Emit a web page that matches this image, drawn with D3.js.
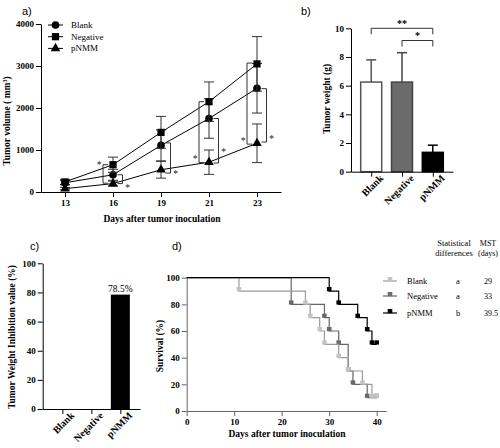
<!DOCTYPE html>
<html><head><meta charset="utf-8">
<script src="https://cdn.jsdelivr.net/npm/d3@7"></script>
<style>body{margin:0;background:#fff}svg{display:block}</style>
</head><body>
<svg id="chart" width="500" height="448"></svg>
<script>
// ---------- Panel a data ----------
const aDays = ["13", "16", "19", "21", "23"];
const aBlank = [220, 410, 1110, 1750, 2470];
const aBlankErr = [50, 130, 370, 470, 590];
const aNegative = [240, 650, 1420, 2150, 3050];
const aNegativeErr = [60, 180, 380, 470, 650];
const aPNMM = [80, 200, 530, 710, 1160];
const aPNMMErr = [30, 60, 200, 290, 460];
const aYTicks = [0, 1000, 2000, 3000, 4000];
const aBrackets = [
  {day: "16", side: "left", top: 650, bottom: 210, star: 690},
  {day: "16", side: "right", top: 410, bottom: 200, star: 140},
  {day: "19", side: "right", top: 1170, bottom: 450, star: 470},
  {day: "21", side: "left", top: 2150, bottom: 700, star: 840},
  {day: "21", side: "right", top: 1750, bottom: 690, star: 990},
  {day: "23", side: "left", top: 3070, bottom: 1140, star: 1270},
  {day: "23", side: "right", top: 2460, bottom: 1190, star: 1320}
];
// ---------- Panel b data ----------
const bGroups = ["Blank", "Negative", "pNMM"];
const bWeights = [6.25, 6.25, 1.35];
const bWeightErr = [1.55, 2.05, 0.5];
const bYTicks = [0, 2, 4, 6, 8, 10];
const bSig = [
  {from: "Blank", to: "pNMM", level: 10, label: "**"},
  {from: "Negative", to: "pNMM", level: 9.15, label: "*"}
];
// ---------- Panel c data ----------
const cGroups = ["Blank", "Negative", "pNMM"];
const cInhibition = [0, 0, 78.5];
const cYTicks = [0, 20, 40, 60, 80, 100];
// ---------- Panel d data ----------
const dBlankDays = [0, 11, 25, 26, 28, 29, 32, 34, 37, 39, 40];
const dBlankSurv = [100, 90, 80, 70, 60, 50, 40, 30, 20, 10, 10];
const dNegativeDays = [0, 22, 29, 30, 32, 34, 35, 38, 40];
const dNegativeSurv = [100, 80, 70, 60, 50, 30, 20, 10, 10];
const dPNMMDays = [0, 30, 32, 36, 38, 39, 40];
const dPNMMSurv = [100, 90, 80, 70, 60, 50, 50];
const dXTicks = [0, 10, 20, 30, 40];
const dYTicks = [0, 20, 40, 60, 80, 100];
const dLegendNames = ["Blank", "Negative", "pNMM"];
const dStat = ["a", "a", "b"];
const dMST = ["29", "33", "39.5"];

const SERIF = "'Liberation Serif','Times New Roman',serif";
const SANS = "'Liberation Sans',Arial,sans-serif";
const svg = d3.select("#chart");
svg.append("rect").attr("width", 500).attr("height", 448).attr("fill", "#fff");
const fmt = d3.format("d");

function styleAxis(g, color) {
  g.attr("font-family", SERIF);
  g.selectAll("path,line").attr("stroke", color || "#000").attr("stroke-width", 1);
  g.selectAll("text").attr("font-family", SERIF).attr("font-weight", "bold").attr("font-size", 9).attr("fill", "#000");
}
function panelLabel(x, y, t) {
  svg.append("text").attr("x", x).attr("y", y).attr("font-family", SANS).attr("font-size", 11).text(t);
}
function rotateCats(xa) {
  xa.selectAll("text").attr("text-anchor", "end").attr("font-size", 10)
    .attr("transform", "translate(4,-1) rotate(-45)").attr("dy", "0.35em").attr("y", 8).attr("x", 0);
}

// ================= Panel a =================
(function () {
  const x = d3.scalePoint().domain(aDays).range([41, 281]).padding(0.5);
  const y = d3.scaleLinear().domain([0, 4000]).range([192, 24]);
  const g = svg.append("g");
  panelLabel(22, 15, "a)");
  const ya = g.append("g").attr("transform", "translate(41,0)")
    .call(d3.axisLeft(y).tickValues(aYTicks).tickFormat(fmt).tickSize(5).tickSizeOuter(0).tickPadding(2));
  styleAxis(ya);
  const xa = g.append("g").attr("transform", "translate(0,192)")
    .call(d3.axisBottom(x).tickSize(5).tickSizeOuter(0).tickPadding(3));
  styleAxis(xa);
  g.append("text").attr("transform", "translate(10,121) rotate(-90)").attr("text-anchor", "middle")
    .attr("font-family", SERIF).attr("font-weight", "bold").attr("font-size", 9.5)
    .call(t => { t.append("tspan").text("Tumor volume ( mm");
      t.append("tspan").attr("baseline-shift", "super").attr("font-size", 6).text("3");
      t.append("tspan").text(")"); });
  g.append("text").attr("x", 162).attr("y", 222).attr("text-anchor", "middle")
    .attr("font-family", SERIF).attr("font-weight", "bold").attr("font-size", 9.5)
    .text("Days after tumor inoculation");

  const series = [
    {name: "Blank", vals: aBlank, err: aBlankErr, shape: d3.symbolCircle, size: 46},
    {name: "Negative", vals: aNegative, err: aNegativeErr, shape: d3.symbolSquare, size: 52},
    {name: "pNMM", vals: aPNMM, err: aPNMMErr, shape: d3.symbolTriangle, size: 40}
  ];
  const line = d3.line().x(d => x(d.day)).y(d => y(d.v));
  series.forEach(s => {
    const pts = aDays.map((d, i) => ({day: d, v: s.vals[i], e: s.err[i]}));
    const eb = g.append("g").attr("stroke", "#333").attr("stroke-width", 1);
    pts.forEach(p => {
      const cx = x(p.day);
      eb.append("line").attr("x1", cx).attr("x2", cx).attr("y1", y(p.v + p.e)).attr("y2", y(p.v - p.e));
      [p.v + p.e, p.v - p.e].forEach(v => eb.append("line").attr("x1", cx - 5).attr("x2", cx + 5).attr("y1", y(v)).attr("y2", y(v)));
    });
    g.append("path").datum(pts).attr("d", line).attr("fill", "none").attr("stroke", "#000").attr("stroke-width", 1);
    g.selectAll(null).data(pts).enter().append("path")
      .attr("d", d3.symbol().type(s.shape).size(s.size))
      .attr("transform", p => `translate(${x(p.day)},${y(p.v)})`).attr("fill", "#000");
  });
  // brackets
  const br = g.append("g");
  aBrackets.forEach(b => {
    const cx = x(b.day);
    const vx = b.side === "left" ? cx - 10 : cx + 9.5;
    const arm = b.side === "left" ? 5 : -5;
    br.append("path").attr("d", `M${vx + arm},${y(b.top)}H${vx}V${y(b.bottom)}H${vx + arm}`)
      .attr("fill", "none").attr("stroke", "#333").attr("stroke-width", 1);
    br.append("text").attr("x", b.side === "left" ? vx - 4 : vx + 5).attr("y", y(b.star) + 5)
      .attr("text-anchor", "middle").attr("font-family", SERIF).attr("font-size", 9.5).attr("fill", "#222").text("*");
  });
  // legend
  series.forEach((s, i) => {
    const ly = 25 + i * 11.7;
    g.append("line").attr("x1", 48).attr("x2", 63).attr("y1", ly).attr("y2", ly).attr("stroke", "#000");
    g.append("path").attr("d", d3.symbol().type(s.shape).size(s.size)).attr("transform", `translate(55.5,${ly})`);
    g.append("text").attr("x", 71).attr("y", ly + 3).attr("font-family", SERIF).attr("font-size", 9).text(s.name);
  });
})();

// ================= Panel b =================
(function () {
  const x = d3.scalePoint().domain(bGroups).range([351, 453]).padding(0.656);
  const y = d3.scaleLinear().domain([0, 10]).range([171.7, 28.3]);
  const g = svg.append("g");
  panelLabel(301, 15, "b)");
  const fills = ["#fff", "#6b6b6b", "#000"];
  const strokes = ["#555", "#444", "#000"];
  bGroups.forEach((c, i) => {
    const cx = x(c);
    g.append("line").attr("x1", cx).attr("x2", cx).attr("y1", y(bWeights[i])).attr("y2", y(bWeights[i] + bWeightErr[i]))
      .attr("stroke", strokes[i]).attr("stroke-width", 1.5);
    g.append("line").attr("x1", cx - 5).attr("x2", cx + 5).attr("y1", y(bWeights[i] + bWeightErr[i])).attr("y2", y(bWeights[i] + bWeightErr[i]))
      .attr("stroke", strokes[i]).attr("stroke-width", 1.5);
    g.append("rect").attr("x", cx - 10.5).attr("width", 21).attr("y", y(bWeights[i])).attr("height", y(0) - y(bWeights[i]))
      .attr("fill", fills[i]).attr("stroke", strokes[i]).attr("stroke-width", 1.5);
  });
  const ya = g.append("g").attr("transform", "translate(351,0)")
    .call(d3.axisLeft(y).tickValues(bYTicks).tickFormat(fmt).tickSize(5).tickSizeOuter(0).tickPadding(2));
  styleAxis(ya);
  const xa = g.append("g").attr("transform", "translate(0,171.7)")
    .call(d3.axisBottom(x).tickSize(5).tickSizeOuter(0));
  styleAxis(xa);
  rotateCats(xa);
  g.append("text").attr("transform", "translate(330,99) rotate(-90)").attr("text-anchor", "middle")
    .attr("font-family", SERIF).attr("font-weight", "bold").attr("font-size", 9.5).text("Tumor weight (g)");
  bSig.forEach(s => {
    const x1 = x(s.from), x2 = x(s.to), yy = y(s.level);
    g.append("path").attr("d", `M${x1},${yy + 6}V${yy}H${x2}V${yy + 6}`).attr("fill", "none").attr("stroke", "#333").attr("stroke-width", 1);
    g.append("text").attr("x", (x1 + x2) / 2).attr("y", yy - 1).attr("text-anchor", "middle").attr("font-family", SERIF)
      .attr("font-size", 10).attr("font-weight", "bold").text(s.label);
  });
})();

// ================= Panel c =================
(function () {
  const x = d3.scalePoint().domain(cGroups).range([42.7, 140]).padding(0.678);
  const y = d3.scaleLinear().domain([0, 100]).range([409, 263.3]);
  const g = svg.append("g");
  panelLabel(30, 250, "c)");
  cGroups.forEach((c, i) => {
    if (cInhibition[i] > 0) {
      g.append("rect").attr("x", x(c) - 9.5).attr("width", 19).attr("y", y(cInhibition[i])).attr("height", y(0) - y(cInhibition[i])).attr("fill", "#000");
      g.append("text").attr("x", x(c)).attr("y", y(cInhibition[i]) - 3).attr("text-anchor", "middle")
        .attr("font-family", SERIF).attr("font-size", 9.5).text(cInhibition[i] + "%");
    }
  });
  const ya = g.append("g").attr("transform", "translate(42.7,0)")
    .call(d3.axisLeft(y).tickValues(cYTicks).tickFormat(fmt).tickSize(5).tickSizeOuter(0).tickPadding(2));
  styleAxis(ya);
  const xa = g.append("g").attr("transform", "translate(0,409)")
    .call(d3.axisBottom(x).tickSize(5).tickSizeOuter(0));
  styleAxis(xa);
  rotateCats(xa);
  g.append("text").attr("transform", "translate(15,337) rotate(-90)").attr("text-anchor", "middle")
    .attr("font-family", SERIF).attr("font-weight", "bold").attr("font-size", 9.5).text("Tumor Weight Inhibition value (%)");
})();

// ================= Panel d =================
(function () {
  const x = d3.scaleLinear().domain([0, 42]).range([186.7, 386.2]);
  const y = d3.scaleLinear().domain([0, 100]).range([411, 277.7]);
  const g = svg.append("g");
  panelLabel(172, 250, "d)");
  const ya = g.append("g").attr("transform", "translate(186.7,0)")
    .call(d3.axisLeft(y).tickValues(dYTicks).tickFormat(fmt).tickSize(5).tickSizeOuter(0).tickPadding(2));
  styleAxis(ya, "#666");
  const xa = g.append("g").attr("transform", "translate(0,411)")
    .call(d3.axisBottom(x).tickValues(dXTicks).tickFormat(fmt).tickSize(5).tickSizeOuter(0).tickPadding(3));
  styleAxis(xa, "#666");
  g.append("text").attr("transform", "translate(163,346) rotate(-90)").attr("text-anchor", "middle")
    .attr("font-family", SERIF).attr("font-weight", "bold").attr("font-size", 9.5).text("Survival (%)");
  g.append("text").attr("x", 287).attr("y", 437).attr("text-anchor", "middle")
    .attr("font-family", SERIF).attr("font-weight", "bold").attr("font-size", 9.5).text("Days after tumor inoculation");

  const series = [
    {days: dNegativeDays, surv: dNegativeSurv, line: "#666", mark: "#6a6a6a"},
    {days: dBlankDays, surv: dBlankSurv, line: "#9a9a9a", mark: "#c4c4c4"},
    {days: dPNMMDays, surv: dPNMMSurv, line: "#000", mark: "#000"}
  ];
  const line = d3.line().x(d => x(d.t)).y(d => y(d.s)).curve(d3.curveStepAfter);
  series.forEach(s => {
    const pts = s.days.map((t, i) => ({t, s: s.surv[i]}));
    g.append("path").datum(pts).attr("d", line).attr("fill", "none").attr("stroke", s.line).attr("stroke-width", 1.2);
    g.selectAll(null).data(pts.slice(1)).enter().append("rect")
      .attr("x", p => x(p.t) - 2.3).attr("y", p => y(p.s) - 4).attr("width", 4.6).attr("height", 4.2).attr("fill", s.mark);
  });
  // legend table
  const tx = (xx, yy, t, anchor, fs) => g.append("text").attr("x", xx).attr("y", yy)
    .attr("text-anchor", anchor || "start").attr("font-family", SERIF).attr("font-size", fs || 8.5).text(t);
  tx(454, 246, "Statistical", "middle");
  tx(454, 256, "differences", "middle");
  tx(488, 246, "MST", "middle", 8);
  tx(488, 256, "(days)", "middle", 8);
  const rowsY = [281, 296, 313];
  const order = [1, 0, 2];
  dLegendNames.forEach((n, i) => {
    const ly = rowsY[i];
    const s = series[order[i]];
    g.append("line").attr("x1", 383).attr("x2", 397).attr("y1", ly).attr("y2", ly).attr("stroke", s.line).attr("stroke-width", 1.2);
    g.append("rect").attr("x", 387.7).attr("y", ly - 4).attr("width", 4.6).attr("height", 4.2).attr("fill", s.mark);
    tx(407, ly + 3, n);
    tx(458, ly + 3, dStat[i], "middle");
    tx(484, ly + 3, dMST[i], "start", 8);
  });
})();
</script>
</body></html>
